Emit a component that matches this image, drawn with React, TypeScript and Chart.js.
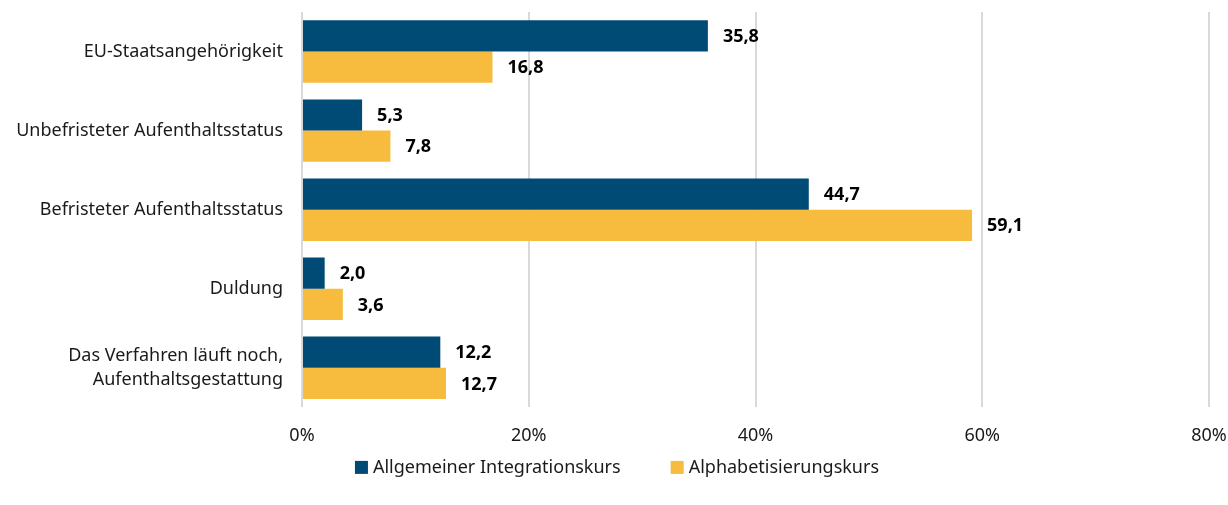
import React, { useEffect, useRef } from "react";
import { Chart, registerables } from "chart.js";

Chart.register(...registerables);

const categories: (string | string[])[] = [
  "EU-Staatsangehörigkeit",
  "Unbefristeter Aufenthaltsstatus",
  "Befristeter Aufenthaltsstatus",
  "Duldung",
  ["Das Verfahren läuft noch,", "Aufenthaltsgestattung"],
];
const seriesNames = ["Allgemeiner Integrationskurs", "Alphabetisierungskurs"];
const integrationValues = [35.8, 5.3, 44.7, 2.0, 12.2];
const alphaValues = [16.8, 7.8, 59.1, 3.6, 12.7];
const xTicks = [0, 20, 40, 60, 80];
const colors = ["#004B76", "#F7BB3D"];

const FONT = "'Noto Sans', sans-serif";
const TEXT = "#1a1a1a";

const valueLabels = {
  id: "valueLabels",
  afterDatasetsDraw(chart: any) {
    const ctx = chart.ctx;
    ctx.save();
    ctx.font = `bold 18px ${FONT}`;
    ctx.fillStyle = "#000";
    ctx.textBaseline = "middle";
    ctx.textAlign = "left";
    chart.data.datasets.forEach((ds: any, di: number) => {
      const meta = chart.getDatasetMeta(di);
      meta.data.forEach((el: any, i: number) => {
        const v = ds.data[i] as number;
        ctx.fillText(v.toFixed(1).replace(".", ","), el.x + 15, el.y + 1);
      });
    });
    ctx.restore();
  },
};

const bottomLegend = {
  id: "bottomLegend",
  afterDraw(chart: any) {
    const ctx = chart.ctx;
    ctx.save();
    ctx.font = `18px ${FONT}`;
    ctx.textBaseline = "middle";
    ctx.textAlign = "left";
    const box = 13;
    const gap = 5;
    const itemGap = 50;
    const items = chart.data.datasets.map((ds: any) => ({
      text: ds.label as string,
      color: ds.backgroundColor as string,
      w: box + gap + ctx.measureText(ds.label).width,
    }));
    const total =
      items.reduce((s: number, it: any) => s + it.w, 0) + itemGap * (items.length - 1);
    let x = (chart.width - total) / 2 + 3;
    const y = chart.chartArea.bottom + 60;
    items.forEach((it: any) => {
      ctx.fillStyle = it.color;
      ctx.fillRect(x, y - box / 2, box, box);
      ctx.fillStyle = TEXT;
      ctx.fillText(it.text, x + box + gap, y);
      x += it.w + itemGap;
    });
    ctx.restore();
  },
};

export default function App() {
  const ref = useRef<HTMLCanvasElement>(null);
  useEffect(() => {
    document.body.style.margin = "0";
    const chart = new Chart(ref.current!, {
      type: "bar",
      data: {
        labels: categories,
        datasets: [
          {
            label: seriesNames[0],
            data: integrationValues,
            backgroundColor: colors[0],
            categoryPercentage: 0.79,
            barPercentage: 1.0,
          },
          {
            label: seriesNames[1],
            data: alphaValues,
            backgroundColor: colors[1],
            categoryPercentage: 0.79,
            barPercentage: 1.0,
          },
        ],
      },
      options: {
        indexAxis: "y",
        animation: false,
        responsive: false,
        layout: { padding: { top: 12, right: 19, left: 0, bottom: 40 } },
        scales: {
          x: {
            min: 0,
            max: 80,
            afterBuildTicks: (scale: any) => {
              scale.ticks = xTicks.map((v) => ({ value: v }));
            },
            afterFit: (scale: any) => {
              scale.paddingRight = 0;
              scale.paddingLeft = 0;
            },
            ticks: {
              callback: (v: any) => `${v}%`,
              font: { family: FONT, size: 18 },
              color: TEXT,
              padding: 18,
            },
            grid: { color: "#D9D9D9", lineWidth: 2, drawTicks: false },
            border: { display: false },
          },
          y: {
            afterFit: (scale: any) => {
              scale.width = 302;
              scale.paddingTop = 0;
              scale.paddingBottom = 0;
            },
            ticks: {
              font: { family: FONT, size: 18, lineHeight: 1.3 },
              color: TEXT,
              padding: 19,
            },
            grid: { display: false, drawTicks: false },
            border: { display: false },
          },
        },
        plugins: {
          legend: { display: false },
          tooltip: { enabled: false },
        },
      },
      plugins: [valueLabels, bottomLegend],
    });
    return () => chart.destroy();
  }, []);
  return (
    <div style={{ width: 1228, height: 505 }}>
      <canvas ref={ref} width={1228} height={505} />
    </div>
  );
}
